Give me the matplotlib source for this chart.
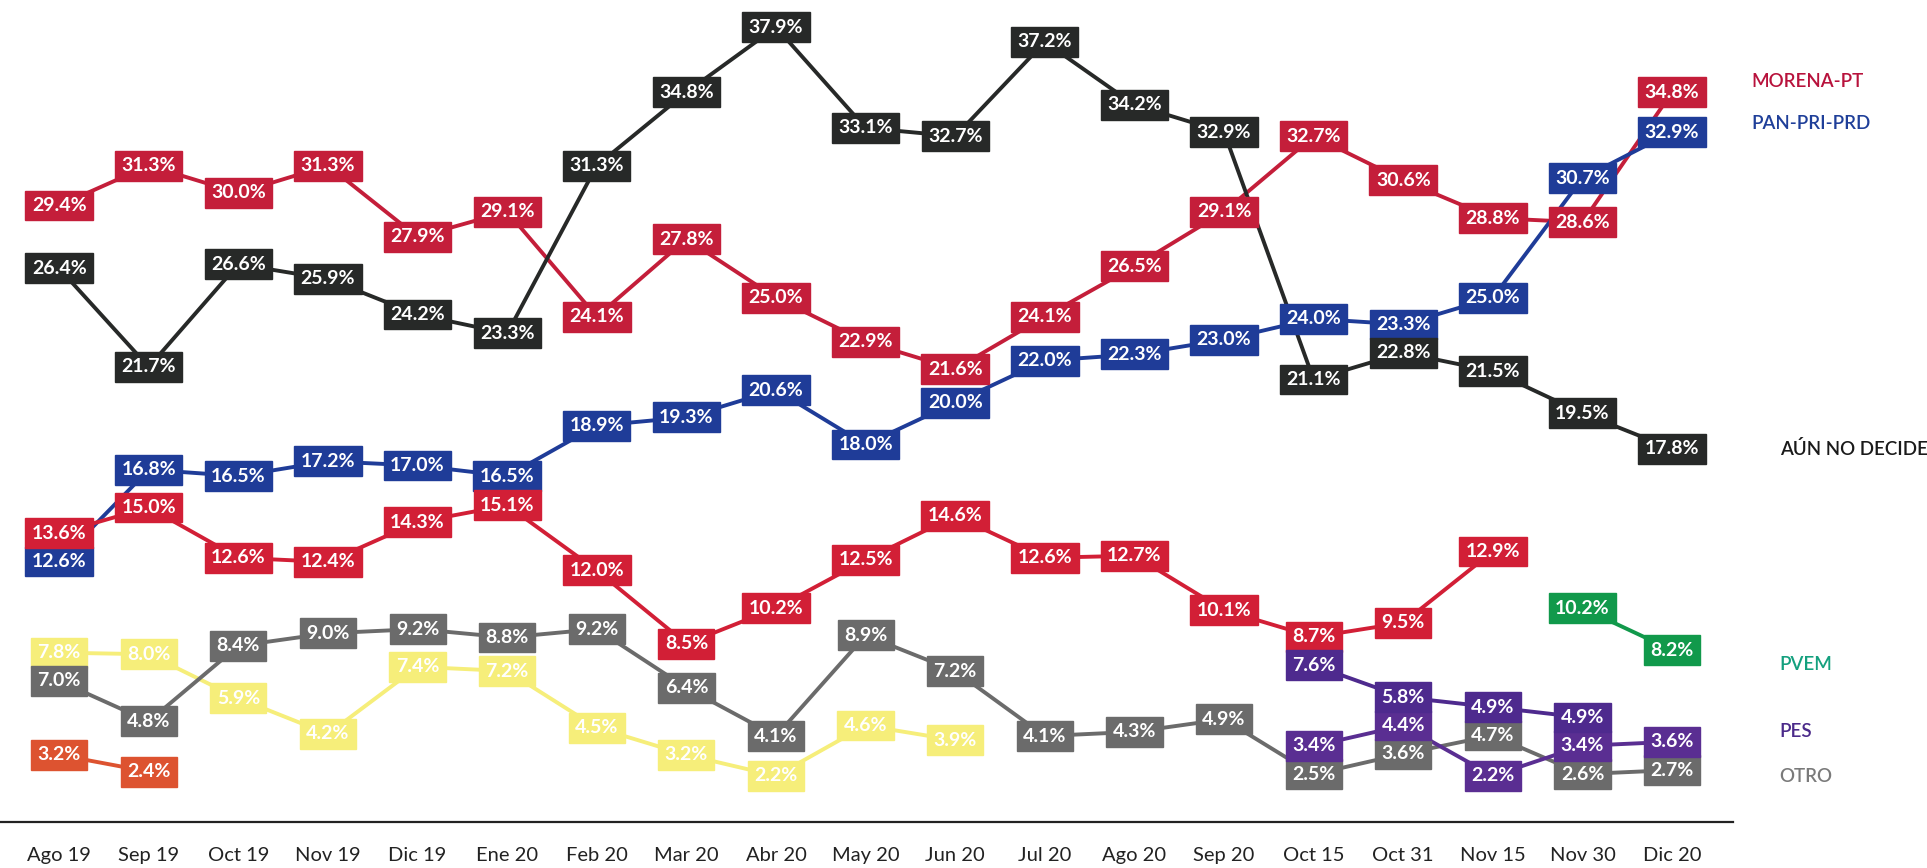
import numpy as np
import matplotlib
matplotlib.use("Agg")
import matplotlib.pyplot as plt

# ================= data =================
periodos = ["Ago 19", "Sep 19", "Oct 19", "Nov 19", "Dic 19", "Ene 20", "Feb 20",
            "Mar 20", "Abr 20", "May 20", "Jun 20", "Jul 20", "Ago 20", "Sep 20",
            "Oct 15", "Oct 31", "Nov 15", "Nov 30", "Dic 20"]

morena_pt = [29.4, 31.3, 30.0, 31.3, 27.9, 29.1, 24.1, 27.8, 25.0, 22.9, 21.6,
             24.1, 26.5, 29.1, 32.7, 30.6, 28.8, 28.6, 34.8]
no_decide = [26.4, 21.7, 26.6, 25.9, 24.2, 23.3, 31.3, 34.8, 37.9, 33.1, 32.7,
             37.2, 34.2, 32.9, 21.1, 22.8, 21.5, 19.5, 17.8]
pan_pri_prd = [12.6, 16.8, 16.5, 17.2, 17.0, 16.5, 18.9, 19.3, 20.6, 18.0, 20.0,
               22.0, 22.3, 23.0, 24.0, 23.3, 25.0, 30.7, 32.9]
rojo_bajo = [13.6, 15.0, 12.6, 12.4, 14.3, 15.1, 12.0, 8.5, 10.2, 12.5, 14.6,
             12.6, 12.7, 10.1, 8.7, 9.5, 12.9, None, None]
amarillo = [7.8, 8.0, 5.9, 4.2, 7.4, 7.2, 4.5, 3.2, 2.2, 4.6, 3.9,
            None, None, None, None, None, None, None, None]
otro = [7.0, 4.8, 8.4, 9.0, 9.2, 8.8, 9.2, 6.4, 4.1, 8.9, 7.2, 4.1, 4.3, 4.9,
        2.5, 3.6, 4.7, 2.6, 2.7]
naranja = [3.2, 2.4] + [None] * 17
pvem = [None] * 17 + [10.2, 8.2]
pes = [None] * 14 + [3.4, 4.4, 2.2, 3.4, 3.6]
morado2 = [None] * 14 + [7.6, 5.8, 4.9, 4.9, None]

# (valores, color caja/linea, etiqueta, color etiqueta, desfase x, desfase y)
series = [
    (morena_pt, "#C41E3A", "MORENA-PT", "#B8123C", 0.88, 0.5),
    (pan_pri_prd, "#1F3C98", "PAN-PRI-PRD", "#1F3F99", 0.88, 0.4),
    (no_decide, "#272928", "AÚN NO DECIDE", "#1A1A1A", 1.2, 0.0),
    (rojo_bajo, "#D21F36", None, None, 0, 0),
    (amarillo, "#F6EE7A", None, None, 0, 0),
    (otro, "#6B6B6B", "OTRO", "#7A7A7A", 1.2, -0.3),
    (naranja, "#DD5330", None, None, 0, 0),
    (pvem, "#11994B", "PVEM", "#14A07E", 1.2, -0.7),
    (pes, "#5A2E92", "PES", "#4B2A8A", 1.2, 0.5),
    (morado2, "#4E2A8E", None, None, 0, 0),
]

# separar cajas que se enciman en la misma columna
SEP = 1.35
n = len(periodos)
pos = [[None if v is None else float(v) for v in s[0]] for s in series]
for i in range(n):
    idx = [k for k in range(len(series)) if pos[k][i] is not None]
    idx.sort(key=lambda k: -pos[k][i])
    for _ in range(50):
        for a, b in zip(idx[:-1], idx[1:]):
            gap = pos[a][i] - pos[b][i]
            if gap < SEP:
                d = (SEP - gap) / 2
                pos[a][i] += d
                pos[b][i] -= d

fig = plt.figure(figsize=(19.27, 8.68), dpi=100)
ax = fig.add_axes([0, 0.053, 1733 / 1927, 0.947])
ax.set_xlim(-0.66, 18.68)
ax.set_ylim(0, 39.2)

x = np.arange(n)
for (vals, col, lab, lcol, dx, dy), p in zip(series, pos):
    xs = [xi for xi, v in zip(x, p) if v is not None]
    ys = [v for v in p if v is not None]
    ax.plot(xs, ys, color=col, lw=2.8, zorder=2, solid_capstyle="butt")
    for xi, yi, v in zip(x, p, vals):
        if v is None:
            continue
        ax.text(xi, yi, f"{v:.1f}%", ha="center", va="center", color="white",
                fontsize=14, fontweight="bold", family="Lato", zorder=4,
                bbox=dict(boxstyle="square,pad=0.33", fc=col, ec=col, lw=1))
    if lab is not None:
        ax.text(xs[-1] + dx, ys[-1] + dy, lab,
                ha="left", va="center", color=lcol, fontsize=13.5,
                fontweight="semibold", family="Lato", clip_on=False)

for s in ["top", "right", "left"]:
    ax.spines[s].set_visible(False)
ax.spines["bottom"].set_linewidth(1.6)
ax.spines["bottom"].set_color("#222222")
ax.set_yticks([])
ax.set_xticks(x)
ax.set_xticklabels(periodos, fontsize=14.5, family="Lato", color="#222222")
ax.tick_params(axis="x", length=0, pad=18)

fig.savefig("out.png", dpi=100, facecolor="white")
